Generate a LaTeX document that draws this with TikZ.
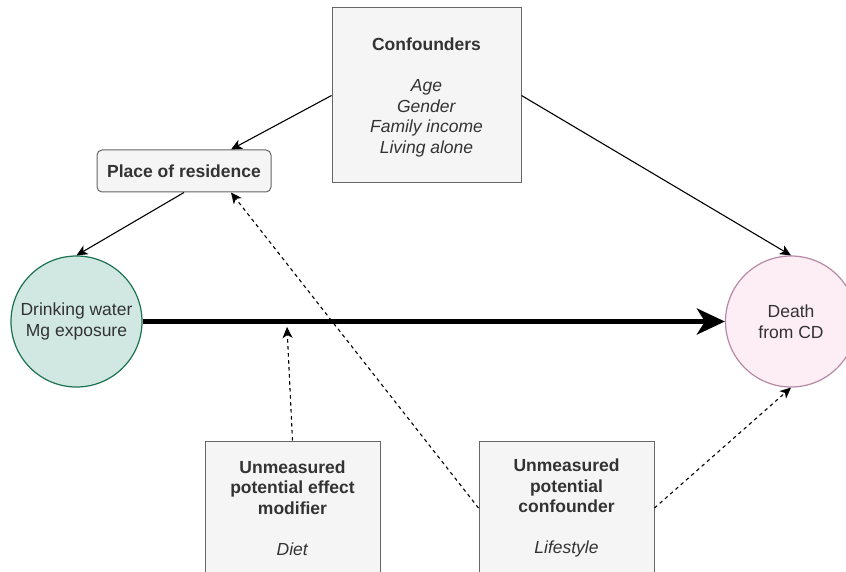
\documentclass[tikz,border=0pt]{standalone}
\usepackage{fontspec}
\setmainfont{Liberation Sans}
\usetikzlibrary{arrows.meta,positioning}
\definecolor{txt}{HTML}{333333}
\definecolor{boxfill}{HTML}{F5F5F5}
\definecolor{boxline}{HTML}{666666}
\definecolor{greenfill}{HTML}{D1E8E2}
\definecolor{greenline}{HTML}{1B7352}
\definecolor{pinkfill}{HTML}{FDEDF4}
\definecolor{pinkline}{HTML}{B68AA5}
\tikzset{
  lbl/.style={font=\fontsize{17.5}{20.5}\selectfont, text=txt, align=center},
  graybox/.style={lbl, draw=boxline, fill=boxfill, line width=1pt, inner sep=0pt},
  roundbox/.style={graybox, rounded corners=5pt},
  circnode/.style={lbl, circle, line width=1.2pt, inner sep=0pt, minimum size=131pt},
  thinarrow/.style={line width=1.1pt, -{Stealth[length=11pt,width=10pt,inset=3pt]}},
  dasharrow/.style={thinarrow, dash pattern=on 3.5pt off 3.5pt},
  thickarrow/.style={line width=5pt, -{Stealth[length=28pt,width=26pt,inset=8pt]}},
}
\begin{document}
\begin{tikzpicture}[x=1pt,y=-1pt]
\useasboundingbox (0,0) rectangle (846,572);
\clip (0,0) rectangle (846,572);
\fill[white] (0,0) rectangle (846,572);

\node[graybox, minimum width=189pt, minimum height=175pt, text depth=0pt] (conf) at (426.5,95.5)
  {\textbf{Confounders}\\[20.5pt]\textit{Age}\\\textit{Gender}\\\textit{Family income}\\\textit{Living alone}};
\node[roundbox, minimum width=174pt, minimum height=42pt] (place) at (184,171)
  {\textbf{Place of residence}};
\node[circnode, draw=greenline, fill=greenfill] (water) at (76.5,321.5)
  {Drinking water\\Mg exposure};
\node[circnode, draw=pinkline, fill=pinkfill] (death) at (791,321.5)
  {Death\\from CD};
\node[graybox, minimum width=175pt, minimum height=134pt] (diet) at (292.5,508)
  {\textbf{Unmeasured}\\\textbf{potential effect}\\\textbf{modifier}\\[20.5pt]\textit{Diet}};
\node[graybox, minimum width=175pt, minimum height=134pt] (life) at (566.5,508)
  {\textbf{Unmeasured}\\\textbf{potential}\\\textbf{confounder}\\[20.5pt]\textit{Lifestyle}};

\coordinate (modtip) at (287,327);

\draw[thinarrow] (conf.west) -- ([xshift=47pt]place.north);
\draw[thinarrow] (conf.east) -- (death.north);
\draw[thinarrow] (place.south) -- (water.north);
\draw[thickarrow] (water.east) -- (death.west);
\draw[dasharrow] (diet.north) -- (modtip);
\draw[dasharrow] (life.west) -- ([xshift=47pt]place.south);
\draw[dasharrow] (life.east) -- (death.south);
\end{tikzpicture}
\end{document}
